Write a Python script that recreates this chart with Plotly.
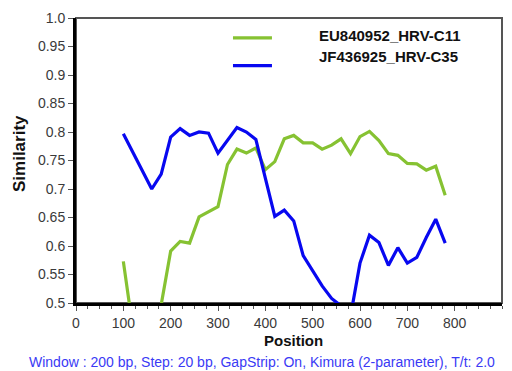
import plotly.graph_objects as go

positions = [100, 120, 140, 160, 180, 200, 220, 240, 260, 280, 300, 320, 340, 360, 380,
             400, 420, 440, 460, 480, 500, 520, 540, 560, 580, 600, 620, 640, 660, 680,
             700, 720, 740, 760, 780]

c11 = [0.573, 0.456, 0.430, 0.450, 0.497, 0.591, 0.608, 0.605, 0.651, 0.660, 0.669,
       0.743, 0.770, 0.763, 0.772, 0.734, 0.748, 0.788, 0.794, 0.781, 0.781, 0.770,
       0.777, 0.788, 0.762, 0.792, 0.801, 0.785, 0.762, 0.759, 0.745, 0.744, 0.733,
       0.740, 0.689]

c35 = [0.797, 0.765, 0.733, 0.700, 0.726, 0.791, 0.806, 0.794, 0.800, 0.798, 0.763,
       0.786, 0.808, 0.800, 0.787, 0.719, 0.652, 0.663, 0.644, 0.583, 0.556, 0.530,
       0.508, 0.495, 0.477, 0.570, 0.619, 0.606, 0.566, 0.597, 0.570, 0.580, 0.615,
       0.647, 0.605]

series_names = ["EU840952_HRV-C11", "JF436925_HRV-C35"]
series_colors = ["#86c232", "#0808f0"]

x_ticks = [0, 100, 200, 300, 400, 500, 600, 700, 800]
y_ticks = [0.5, 0.55, 0.6, 0.65, 0.7, 0.75, 0.8, 0.85, 0.9, 0.95, 1.0]
y_tick_labels = ["0.5", "0.55", "0.6", "0.65", "0.7", "0.75", "0.8", "0.85", "0.9", "0.95", "1.0"]

footer = "Window : 200 bp, Step: 20 bp, GapStrip: On, Kimura (2-parameter), T/t: 2.0"

FONT = "Liberation Sans, Arial, sans-serif"

fig = go.Figure()
for vals, name, col in zip([c11, c35], series_names, series_colors):
    fig.add_trace(go.Scatter(x=positions, y=vals, mode="lines", name=name,
                             line=dict(color=col, width=3.2), showlegend=False))

fig.update_layout(
    width=512, height=371,
    margin=dict(l=76, r=10, t=16, b=68),
    paper_bgcolor="white", plot_bgcolor="white",
    font=dict(family=FONT, size=14, color="#3a3a3a"),
    xaxis=dict(range=[0, 900], tickvals=x_ticks, ticks="outside", ticklen=5,
               tickwidth=1, tickcolor="#555", showgrid=False, zeroline=False,
               showline=True, linecolor="black", linewidth=3,
               minor=dict(dtick=25, tick0=0, ticks="outside", ticklen=3,
                          tickcolor="#555", showgrid=False),
               tickfont=dict(size=14, color="#3a3a3a")),
    yaxis=dict(range=[0.5, 1.0], tickvals=y_ticks, ticktext=y_tick_labels,
               ticks="outside", ticklen=5, tickwidth=1, tickcolor="#555",
               showgrid=False, zeroline=False, showline=True, linecolor="black",
               linewidth=3, tickfont=dict(size=14, color="#3a3a3a")),
    showlegend=False,
)

# plot frame (top/right thinner gray)
fig.add_shape(type="rect", xref="paper", yref="paper", x0=0, x1=1, y0=0, y1=1,
              line=dict(color="#555", width=2), layer="below")

# manual legend
leg_y_line = [0.930, 0.833]
leg_y_text = [0.937, 0.866]
for name, col, yl, yt in zip(series_names, series_colors, leg_y_line, leg_y_text):
    fig.add_shape(type="line", xref="paper", yref="paper", x0=0.3685, x1=0.460,
                  y0=yl, y1=yl, line=dict(color=col, width=3.2))
    fig.add_annotation(xref="paper", yref="paper", x=0.566, y=yt, text=f"<b>{name}</b>",
                       showarrow=False, xanchor="left", yanchor="middle",
                       font=dict(family=FONT, size=15, color="#111"))

# axis titles
fig.add_annotation(xref="paper", yref="paper", x=0.51, y=-0.13, text="<b>Position</b>",
                   showarrow=False, xanchor="center", yanchor="middle",
                   font=dict(family=FONT, size=15, color="#111"))
fig.add_annotation(xref="paper", yref="paper", x=-0.133, y=0.524, text="<b>Similarity</b>",
                   showarrow=False, xanchor="center", yanchor="middle", textangle=-90,
                   font=dict(family=FONT, size=17, color="#111"))

# footer
fig.add_annotation(xref="paper", yref="paper", x=-0.115, y=-0.206, text=footer,
                   showarrow=False, xanchor="left", yanchor="middle",
                   font=dict(family=FONT, size=14, color="#3a3af5"))

fig.write_html("out.html")
